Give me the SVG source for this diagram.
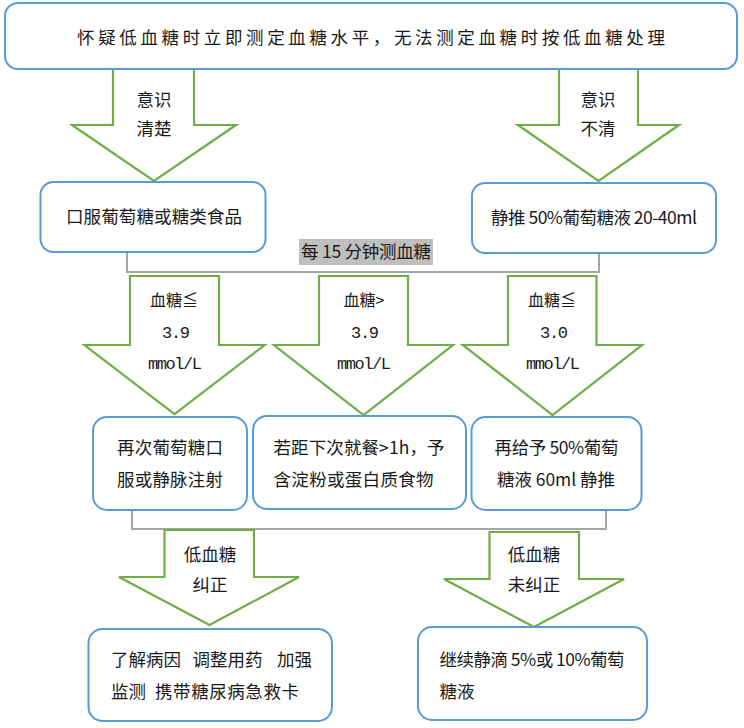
<svg xmlns="http://www.w3.org/2000/svg" width="744" height="728" viewBox="0 0 744 728">
<style>
.box{fill:#fff;stroke:#5B9BD5;stroke-width:2}
.arr{fill:#fff;stroke:#70AD47;stroke-width:2.2}
.br{fill:none;stroke:#A5A5A5;stroke-width:2}
text{font-family:"Noto Sans CJK SC","Liberation Sans",sans-serif;fill:#1a1a1a}
.t{font-size:17.5px;text-anchor:middle}
.l{font-size:17.5px}
.a{font-size:17.5px;text-anchor:middle}
.m{font-family:"Liberation Mono","Noto Sans CJK SC",monospace;font-size:17px;text-anchor:middle}
.s{font-size:16px;text-anchor:middle}
</style>
<rect width="744" height="728" fill="#fff"/>
<g id="connectors">
<path class="br" d="M127,252 V272 H599 V254"/>
<path class="br" d="M132,510 V529 H606 V511"/>
<g id="label-15min">
<rect x="299" y="239" width="134" height="26" fill="#BFBFBF"/>
<text class="t" x="366" y="258" font-size="17" textLength="130">每 15 分钟测血糖</text>
</g>
<g id="arrow-conscious">
<polygon class="arr" points="113,69 194,69 194,125 236,125 154,181 72,125 113,125"/>
<text class="a" x="154" y="106">意识</text>
<text class="a" x="154" y="135">清楚</text>
</g>
<g id="arrow-unconscious">
<polygon class="arr" points="559,69 638,69 638,125 679,125 598.5,181 518,125 559,125"/>
<text class="a" x="598" y="106">意识</text>
<text class="a" x="598" y="135">不清</text>
</g>
<g id="arrow-le39">
<polygon class="arr" points="130,276 219,276 219,345 264.5,345 174.5,414 84.5,345 130,345"/>
<text class="s" x="174" y="306">血糖≦</text>
<text class="m" x="176" y="338" textLength="28">3.9</text>
<text class="m" x="175" y="369" textLength="54">mmol/L</text>
</g>
<g id="arrow-gt39">
<polygon class="arr" points="319,276 408,276 408,345 453,345 363.5,415 274,345 319,345"/>
<text class="s" x="364" y="306">血糖&gt;</text>
<text class="m" x="365" y="338" textLength="28">3.9</text>
<text class="m" x="364" y="369" textLength="54">mmol/L</text>
</g>
<g id="arrow-le30">
<polygon class="arr" points="508,276 596.5,276 596.5,345 642,345 552.5,415 463,345 508,345"/>
<text class="s" x="552" y="306">血糖≦</text>
<text class="m" x="554" y="338" textLength="28">3.0</text>
<text class="m" x="553" y="369" textLength="54">mmol/L</text>
</g>
<g id="arrow-corrected">
<polygon class="arr" points="164.5,530 254,530 254,577 299,577 209.5,625 119,577 164.5,577"/>
<text class="a" x="210" y="561">低血糖</text>
<text class="a" x="210" y="591">纠正</text>
</g>
<g id="arrow-notcorrected">
<polygon class="arr" points="489.5,532 579,532 579,579 624,579 534,627 444,579 489.5,579"/>
<text class="a" x="534" y="561">低血糖</text>
<text class="a" x="534" y="591">未纠正</text>
</g>
</g>
<g id="node-top">
<rect class="box" x="5" y="3" width="732" height="66" rx="13"/>
<text class="t" x="371" y="44" font-size="20.5" textLength="588">怀疑低血糖时立即测定血糖水平，无法测定血糖时按低血糖处理</text>
</g>
<g id="node-oral">
<rect class="box" x="40.5" y="182" width="225" height="70" rx="13"/>
<text class="t" x="154" y="223" font-size="17.5" textLength="176">口服葡萄糖或糖类食品</text>
</g>
<g id="node-iv50">
<rect class="box" x="472" y="183" width="244" height="70" rx="13"/>
<text class="t" x="594" y="224" textLength="206">静推 50%葡萄糖液 20-40ml</text>
</g>
<g id="node-repeat">
<rect class="box" x="93" y="417" width="154" height="93" rx="14"/>
<text class="t" x="170" y="454" textLength="106">再次葡萄糖口</text>
<text class="t" x="170" y="486" textLength="106">服或静脉注射</text>
</g>
<g id="node-starch">
<rect class="box" x="253" y="416" width="213" height="93" rx="14"/>
<text class="l" x="273.5" y="454" textLength="171">若距下次就餐&gt;1h，予</text>
<text class="l" x="273.5" y="486" textLength="160">含淀粉或蛋白质食物</text>
</g>
<g id="node-iv60">
<rect class="box" x="471.5" y="417" width="170" height="93" rx="14"/>
<text class="t" x="556.5" y="454" textLength="124">再给予 50%葡萄</text>
<text class="t" x="556" y="486" textLength="118">糖液 60ml 静推</text>
</g>
<g id="node-education">
<rect class="box" x="88.5" y="629" width="243.5" height="92" rx="14"/>
<text class="l" x="111" y="666">了解病因</text>
<text class="l" x="192.5" y="666">调整用药</text>
<text class="l" x="277" y="666">加强</text>
<text class="l" x="111" y="698">监测</text>
<text class="l" x="155" y="698" textLength="144">携带糖尿病急救卡</text>
</g>
<g id="node-drip">
<rect class="box" x="418" y="627" width="229" height="93" rx="14"/>
<text class="l" x="439.5" y="666" textLength="185">继续静滴 5%或 10%葡萄</text>
<text class="l" x="439.5" y="698">糖液</text>
</g>
</svg>
